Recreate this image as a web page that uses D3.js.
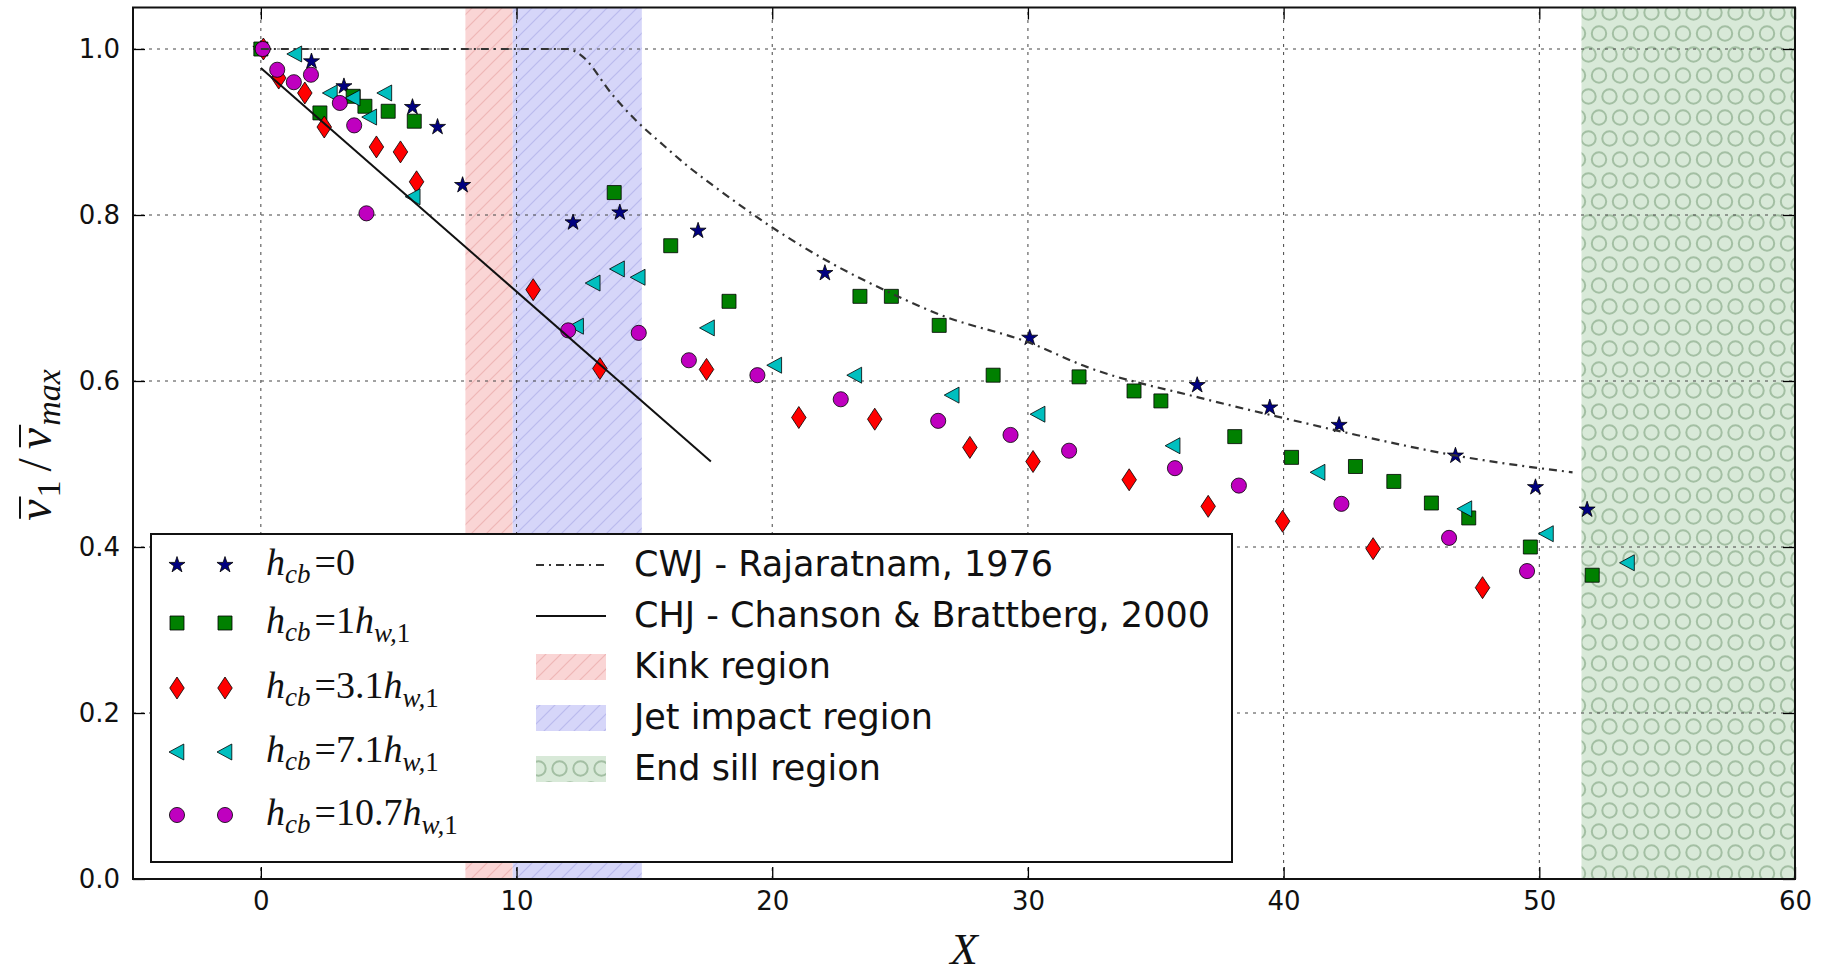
<!DOCTYPE html>
<html><head><meta charset="utf-8">
<script src="https://cdn.jsdelivr.net/npm/d3@7"></script>
<style>body{margin:0;background:#fff}</style>
</head><body>
<svg id="c" width="1829" height="976"></svg>
<script>
// ---------- data ----------
const starX = [0, 1.98, 3.25, 5.93, 6.91, 7.89, 12.21, 14.04, 17.1, 22.06, 30.07, 36.62, 39.46, 42.17, 46.72, 49.85, 51.87];
const starY = [1.0, 0.985, 0.955, 0.930, 0.906, 0.836, 0.791, 0.803, 0.781, 0.730, 0.652, 0.595, 0.568, 0.547, 0.510, 0.472, 0.445];
const squareX = [0, 2.31, 3.61, 4.07, 4.98, 6.0, 13.82, 16.03, 18.31, 23.43, 24.66, 26.53, 28.64, 32.0, 34.15, 35.2, 38.09, 40.31, 42.81, 44.31, 45.78, 47.24, 49.65, 52.07];
const squareY = [1.0, 0.923, 0.943, 0.931, 0.925, 0.913, 0.827, 0.763, 0.696, 0.702, 0.702, 0.667, 0.607, 0.605, 0.588, 0.576, 0.533, 0.508, 0.497, 0.479, 0.453, 0.435, 0.400, 0.366];
const diamondX = [0.1, 0.7, 1.72, 2.48, 4.52, 5.46, 6.09, 10.65, 13.26, 17.43, 21.04, 24.01, 27.73, 30.2, 33.96, 37.05, 39.96, 43.5, 47.78];
const diamondY = [1.0, 0.965, 0.947, 0.906, 0.882, 0.876, 0.840, 0.710, 0.615, 0.614, 0.556, 0.554, 0.520, 0.503, 0.481, 0.449, 0.431, 0.398, 0.351];
const triX = [1.33, 2.72, 3.61, 4.26, 4.85, 5.96, 12.35, 13.0, 13.95, 14.76, 17.47, 20.1, 23.23, 27.04, 30.4, 35.68, 41.35, 47.09, 50.28, 53.45];
const triY = [0.994, 0.947, 0.941, 0.918, 0.947, 0.822, 0.666, 0.718, 0.735, 0.725, 0.664, 0.619, 0.607, 0.583, 0.560, 0.522, 0.490, 0.446, 0.416, 0.381];
const circX = [0.07, 0.64, 1.29, 1.96, 3.09, 3.65, 4.13, 12.02, 14.78, 16.74, 19.42, 22.68, 26.49, 29.32, 31.61, 35.75, 38.25, 42.26, 46.47, 49.52];
const circY = [1.0, 0.975, 0.960, 0.969, 0.935, 0.908, 0.802, 0.661, 0.658, 0.625, 0.607, 0.578, 0.552, 0.535, 0.516, 0.495, 0.474, 0.452, 0.411, 0.371];

const cwjX = [0, 12.0, 12.5, 13.8, 14.7, 15.6, 16.65, 17.8, 20.0, 22.25, 24.7, 26.55, 30.07, 32.3, 36.7, 40.05, 42.85, 46.76, 50.0, 51.3];
const cwjY = [1.0, 1.0, 0.993, 0.943, 0.913, 0.888, 0.860, 0.833, 0.785, 0.743, 0.705, 0.680, 0.646, 0.617, 0.580, 0.555, 0.535, 0.510, 0.495, 0.490];
const chjX = [0, 17.6];
const chjY = [0.977, 0.503];

const kinkRange = [8.0, 9.85];
const jetRange = [9.85, 14.9];
const sillRange = [51.65, 60];

const xTicks = [0, 10, 20, 30, 40, 50, 60];
const yTicks = [0.0, 0.2, 0.4, 0.6, 0.8, 1.0];
const xDomain = [-5, 60];
const yDomain = [0, 1.05];

const seriesLabels = [
  {sub: "cb", eq: "=0", sub2: null},
  {sub: "cb", eq: "=1", sub2: "w,"},
  {sub: "cb", eq: "=3.1", sub2: "w,"},
  {sub: "cb", eq: "=7.1", sub2: "w,"},
  {sub: "cb", eq: "=10.7", sub2: "w,"}
];
const lineLabels = ["CWJ - Rajaratnam, 1976", "CHJ - Chanson & Brattberg, 2000"];
const regionLabels = ["Kink region", "Jet impact region", "End sill region"];

// ---------- setup ----------
const svg = d3.select("#c");
const L = 133, R = 1795, B = 879, T = 7.5;
const x = d3.scaleLinear().domain(xDomain).range([L, R]);
const y = d3.scaleLinear().domain(yDomain).range([B, T]);

const defs = svg.append("defs");
defs.append("clipPath").attr("id", "plotclip").append("rect")
  .attr("x", L).attr("y", T).attr("width", R - L).attr("height", B - T);

function diagPattern(id, bg, stroke) {
  const s = 15;
  const p = defs.append("pattern").attr("id", id).attr("patternUnits", "userSpaceOnUse")
    .attr("width", s).attr("height", s);
  p.append("rect").attr("width", s).attr("height", s).attr("fill", bg);
  p.append("path").attr("d", `M0,${s} L${s},0 M-3,3 L3,-3 M${s - 3},${s + 3} L${s + 3},${s - 3}`)
    .attr("stroke", stroke).attr("stroke-width", 1.2);
}
diagPattern("hatchKink", "#fad5d5", "#efb6b6");
diagPattern("hatchJet", "#d6d6f9", "#babaee");
{
  const p = defs.append("pattern").attr("id", "hatchSill").attr("patternUnits", "userSpaceOnUse")
    .attr("width", 21).attr("height", 42).attr("patternTransform", "translate(3,2)");
  p.append("rect").attr("width", 21).attr("height", 42).attr("fill", "#d8e9d8");
  const pts = [[10.5, 10.5], [0, 31.5], [21, 31.5]];
  pts.forEach(c => p.append("circle").attr("cx", c[0]).attr("cy", c[1]).attr("r", 7.2)
    .attr("fill", "none").attr("stroke", "#a3bfa3").attr("stroke-width", 2));
}

const plot = svg.append("g").attr("clip-path", "url(#plotclip)");

// regions
function region(range, fill) {
  plot.append("rect").attr("x", x(range[0])).attr("y", y(yDomain[1]))
    .attr("width", x(range[1]) - x(range[0])).attr("height", y(0) - y(yDomain[1]))
    .attr("fill", fill);
}
region(kinkRange, "url(#hatchKink)");
region(jetRange, "url(#hatchJet)");
region(sillRange, "url(#hatchSill)");

// grid
const grid = plot.append("g").attr("stroke", "#444").attr("stroke-width", 1)
  .attr("stroke-dasharray", "3,5");
xTicks.filter(t => t > xDomain[0] && t < xDomain[1]).forEach(t =>
  grid.append("line").attr("x1", x(t)).attr("x2", x(t)).attr("y1", y(0)).attr("y2", y(yDomain[1])));
yTicks.filter(t => t > yDomain[0] && t < yDomain[1]).forEach(t =>
  grid.append("line").attr("y1", y(t)).attr("y2", y(t)).attr("x1", x(xDomain[0])).attr("x2", x(xDomain[1])));

// marker shapes
const symDiamond = {draw(ctx, s) { const h = s / 2, w = s * 0.33; ctx.moveTo(0, -h); ctx.lineTo(w, 0); ctx.lineTo(0, h); ctx.lineTo(-w, 0); ctx.closePath(); }};
const symTriLeft = {draw(ctx, s) { const r = s / 2; ctx.moveTo(-r, 0); ctx.lineTo(r * 0.85, -r); ctx.lineTo(r * 0.85, r); ctx.closePath(); }};
const series = [
  {xs: starX, ys: starY, sym: d3.symbol(d3.symbolStar, 80), fill: "#000080"},
  {xs: squareX, ys: squareY, sym: d3.symbol(d3.symbolSquare, 196), fill: "#008000"},
  {xs: diamondX, ys: diamondY, sym: d3.symbol(symDiamond, 22), fill: "#ff0000"},
  {xs: triX, ys: triY, sym: d3.symbol(symTriLeft, 16), fill: "#00bfbf"},
  {xs: circX, ys: circY, sym: d3.symbol(d3.symbolCircle, 180), fill: "#bf00bf"}
];

series.forEach(s => {
  plot.append("g").selectAll("path").data(s.xs.map((v, i) => [v, s.ys[i]])).join("path")
    .attr("transform", d => `translate(${x(d[0])},${y(d[1])})`)
    .attr("d", s.sym()).attr("fill", s.fill).attr("stroke", "#000").attr("stroke-width", 0.8);
});

// lines
const lineGen = d3.line().x(d => x(d[0])).y(d => y(d[1])).curve(d3.curveMonotoneX);
plot.append("path").datum(cwjX.map((v, i) => [v, cwjY[i]])).attr("d", lineGen)
  .attr("fill", "none").attr("stroke", "#333").attr("stroke-width", 2.2).attr("stroke-dasharray", "8,5,2,5");
plot.append("path").datum(chjX.map((v, i) => [v, chjY[i]])).attr("d", d3.line().x(d => x(d[0])).y(d => y(d[1])))
  .attr("fill", "none").attr("stroke", "#111").attr("stroke-width", 2);

// axes
const tickFont = "DejaVu Sans, sans-serif";
function styleAxis(g) {
  g.select(".domain").remove();
  g.selectAll(".tick line").attr("stroke", "#000").attr("stroke-width", 1.3);
  g.selectAll(".tick text").attr("font-family", tickFont).attr("font-size", 26).attr("fill", "#111");
}
svg.append("g").attr("transform", `translate(0,${B})`)
  .call(d3.axisBottom(x).tickValues(xTicks).tickSize(-12).tickPadding(13).tickFormat(d3.format("d"))).call(styleAxis);
svg.append("g").attr("transform", `translate(${L},0)`)
  .call(d3.axisLeft(y).tickValues(yTicks).tickSize(-12).tickPadding(13).tickFormat(d3.format(".1f"))).call(styleAxis);
svg.append("g").attr("transform", `translate(0,${T})`)
  .call(d3.axisTop(x).tickValues(xTicks).tickSize(-12).tickFormat("")).call(styleAxis);
svg.append("g").attr("transform", `translate(${R},0)`)
  .call(d3.axisRight(y).tickValues(yTicks).tickSize(-12).tickFormat("")).call(styleAxis);

svg.append("rect").attr("x", L).attr("y", T).attr("width", R - L).attr("height", B - T)
  .attr("fill", "none").attr("stroke", "#111").attr("stroke-width", 2);

// axis labels
const mathFont = "Liberation Serif, DejaVu Serif, serif";
svg.append("text").attr("x", (L + R) / 2).attr("y", 964).attr("text-anchor", "middle")
  .attr("font-family", mathFont).attr("font-style", "italic").attr("font-size", 45).attr("fill", "#111").text("X");

// y label: v̄1 / v̄max, built piece by piece in a rotated frame
{
  const outer = svg.append("g").attr("transform", "translate(51,445) rotate(-90)");
  const inner = outer.append("g");
  const parts = [
    {t: "v", size: 48, style: "italic", dy: 0, dx: 0, bar: true},
    {t: "1", size: 34, style: "normal", dy: 9, dx: 2},
    {t: "/", size: 48, style: "normal", dy: 0, dx: 9},
    {t: "v", size: 48, style: "italic", dy: 0, dx: 9, bar: true},
    {t: "max", size: 34, style: "italic", dy: 9, dx: 2}
  ];
  let cx = 0;
  parts.forEach(p => {
    cx += p.dx;
    const el = inner.append("text").attr("x", cx).attr("y", p.dy).attr("font-family", mathFont)
      .attr("font-style", p.style).attr("font-size", p.size).attr("fill", "#111").text(p.t);
    const w = el.node().getComputedTextLength();
    if (p.bar) inner.append("line").attr("x1", cx + 2).attr("x2", cx + w + 3).attr("y1", -31).attr("y2", -31)
      .attr("stroke", "#111").attr("stroke-width", 2);
    cx += w;
  });
  inner.attr("transform", `translate(${-cx / 2},0)`);
}

// legend
const lg = svg.append("g");
lg.append("rect").attr("x", 151).attr("y", 534).attr("width", 1232 - 151).attr("height", 862 - 534)
  .attr("fill", "#fff").attr("stroke", "#111").attr("stroke-width", 2);
const leftRows = [565, 623, 688, 752, 815];
series.forEach((s, i) => {
  [177, 225].forEach(px => lg.append("path").attr("transform", `translate(${px},${leftRows[i]})`)
    .attr("d", s.sym()).attr("fill", s.fill).attr("stroke", "#000").attr("stroke-width", 0.8));
  const lab = seriesLabels[i];
  const t = lg.append("text").attr("x", 266).attr("y", leftRows[i] + 10)
    .attr("font-family", mathFont).attr("font-size", 38).attr("fill", "#111");
  t.append("tspan").attr("font-style", "italic").text("h");
  t.append("tspan").attr("font-style", "italic").attr("font-size", 27).attr("dy", 8).text(lab.sub);
  t.append("tspan").attr("dy", -8).attr("dx", 4).text(lab.eq);
  if (lab.sub2) {
    t.append("tspan").attr("font-style", "italic").text("h");
    t.append("tspan").attr("font-style", "italic").attr("font-size", 27).attr("dy", 9).text(lab.sub2);
    t.append("tspan").attr("font-size", 27).text("1");
  }
});
const rightRows = [565, 616, 667, 718, 769];
const legFont = "DejaVu Sans, sans-serif";
lg.append("line").attr("x1", 536).attr("x2", 606).attr("y1", rightRows[0]).attr("y2", rightRows[0])
  .attr("stroke", "#333").attr("stroke-width", 2).attr("stroke-dasharray", "8,5,2,5");
lg.append("line").attr("x1", 536).attr("x2", 606).attr("y1", rightRows[1]).attr("y2", rightRows[1])
  .attr("stroke", "#111").attr("stroke-width", 2);
["url(#hatchKink)", "url(#hatchJet)", "url(#hatchSill)"].forEach((f, i) =>
  lg.append("rect").attr("x", 536).attr("y", rightRows[i + 2] - 13).attr("width", 70).attr("height", 26).attr("fill", f));
lineLabels.concat(regionLabels).forEach((txt, i) =>
  lg.append("text").attr("x", 634).attr("y", rightRows[i] + 11).attr("font-family", legFont)
    .attr("font-size", 35).attr("fill", "#111").text(txt));
</script>
</body></html>
